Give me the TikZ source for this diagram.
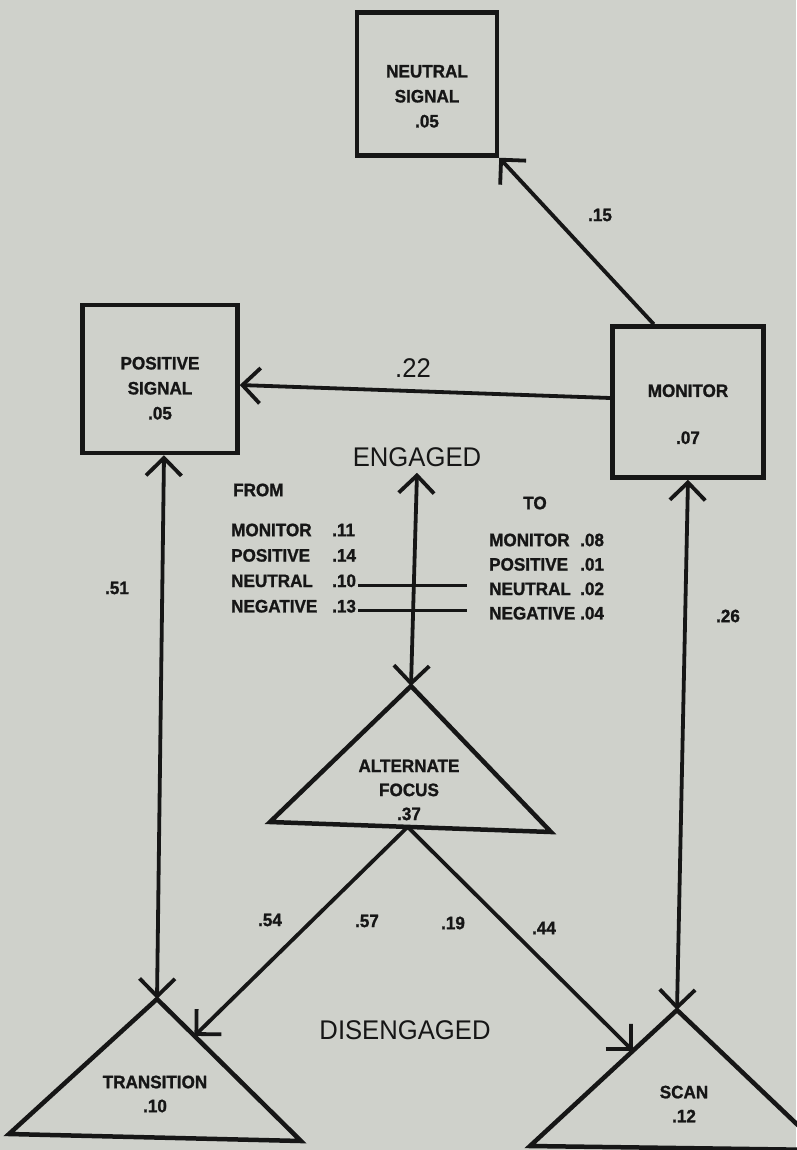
\documentclass[tikz,border=0pt]{standalone}
\usepackage{fontspec}
\setmainfont{Liberation Sans}
\newfontfamily\plotfont[FakeStretch=0.95, BoldFeatures={FakeBold=1.2}]{Liberation Sans}
\usepackage{tikz}
\usetikzlibrary{arrows.meta,positioning,calc}
\definecolor{paper}{RGB}{207,209,203}
\definecolor{ink}{RGB}{22,22,22}

\begin{document}
\begin{tikzpicture}[
  x=1pt, y=-1pt,
  font=\plotfont\bfseries\fontsize{18}{25}\selectfont,
  box/.style={draw=ink, line width=4.5pt, align=center, inner sep=0pt, text=ink},
  tri/.style={draw=ink, line width=4.5pt, line join=miter},
  lbl/.style={align=center, text=ink, inner sep=1pt},
  trilbl/.style={lbl, font=\plotfont\bfseries\fontsize{18}{24}\selectfont},
  row/.style={anchor=north west, text=ink, inner sep=2pt, text height=13pt, text depth=4pt},
  big/.style={font=\plotfont\fontsize{27}{30}\selectfont, text=ink, inner sep=2pt},
  arr/.style={draw=ink, line width=3.8pt, -{Straight Barb[angle=90:25pt]}},
  arr2/.style={draw=ink, line width=3.8pt, {Straight Barb[angle=90:25pt]}-{Straight Barb[angle=90:25pt]}},
  link/.style={draw=ink, line width=3pt}
]
\path[use as bounding box, fill=paper] (0,0) rectangle (796,1150);

% engaged states
\node[box, minimum width=140pt, minimum height=143pt] (neu) at (427,84) {\rule{0pt}{37pt}NEUTRAL\\SIGNAL\\.05};
\node[box, minimum width=155pt, minimum height=148pt] (pos) at (160,379) {\rule{0pt}{31pt}POSITIVE\\SIGNAL\\.05};
\node[box, minimum width=151pt, minimum height=151pt] (mon) at (688,402) {\rule{0pt}{37pt}MONITOR\\[22pt].07};

% disengaged states
\coordinate (altT) at (411,686);
\coordinate (altL) at (270,822);
\coordinate (altR) at (551,832);
\draw[tri] (altT) -- (altL) -- (altR) -- cycle;
\node[trilbl] (alt) at (409,790) {ALTERNATE\\FOCUS\\.37};

\coordinate (trT) at (157,999);
\coordinate (trL) at (9,1134);
\coordinate (trR) at (301,1141);
\draw[tri] (trT) -- (trL) -- (trR) -- cycle;
\node[trilbl] (tr) at (155,1094) {TRANSITION\\.10};

\coordinate (scT) at (677,1010);
\coordinate (scL) at (530,1146);
\coordinate (scR) at (824,1150);
\draw[tri] (scT) -- (scL) -- (scR) -- cycle;
\node[trilbl] (sc) at (684,1104) {SCAN\\.12};

\node[big] (eng) at (417,457) {ENGAGED};
\node[big] (dis) at (405,1030) {DISENGAGED};

% transitions
\draw[arr] ($(mon.north west)!0.28!(mon.north east)$) -- (neu.south east);
\draw[arr] ([yshift=4pt]mon.west) -- ([yshift=-6pt]pos.east);
\draw[arr2] ([xshift=4pt]pos.south) -- (trT);
\draw[arr2] (mon.south) -- (scT);
\draw[arr2] ([yshift=-4pt]eng.south) -- (altT);
\coordinate (altB) at ($(altL)!0.49!(altR)$);
\draw[arr] (altB) -- ($(trT)!0.26!(trR)$);
\draw[arr] (altB) -- ($(scT)!0.3!(scL)$);

\node[lbl] (p15) at (600,215) {.15};
\node[big] (p22) at (413,368) {.22};
\node[lbl] (p51) at (117,588) {.51};
\node[lbl] (p26) at (728,616) {.26};
\node[lbl] (p54) at (270,920) {.54};
\node[lbl] (p57) at (367,921) {.57};
\node[lbl] (p19) at (453,923) {.19};
\node[lbl] (p44) at (544,928) {.44};

% from / to lists
\node[lbl, anchor=west] (from) at (232,490) {FROM};
\node[row] (f1) at (229,521) {\makebox[101pt][l]{MONITOR}.11};
\node[row, below=4pt of f1.south west, anchor=north west] (f2) {\makebox[101pt][l]{POSITIVE}.14};
\node[row, below=4pt of f2.south west, anchor=north west] (f3) {\makebox[101pt][l]{NEUTRAL}.10};
\node[row, below=4pt of f3.south west, anchor=north west] (f4) {\makebox[101pt][l]{NEGATIVE}.13};

\node[lbl] (to) at (535,503) {TO};
\node[row] (t1) at (487,531) {\makebox[91pt][l]{MONITOR}.08};
\node[row, below=3pt of t1.south west, anchor=north west] (t2) {\makebox[91pt][l]{POSITIVE}.01};
\node[row, below=3pt of t2.south west, anchor=north west] (t3) {\makebox[91pt][l]{NEUTRAL}.02};
\node[row, below=3pt of t3.south west, anchor=north west] (t4) {\makebox[91pt][l]{NEGATIVE}.04};

\draw[link, shorten >=20pt] ([yshift=-3pt]f3.east) -- ([yshift=-3pt]f3.east -| t3.west);
\draw[link, shorten >=20pt] ([yshift=-3pt]f4.east) -- ([yshift=-3pt]f4.east -| t4.west);
\end{tikzpicture}
\end{document}
